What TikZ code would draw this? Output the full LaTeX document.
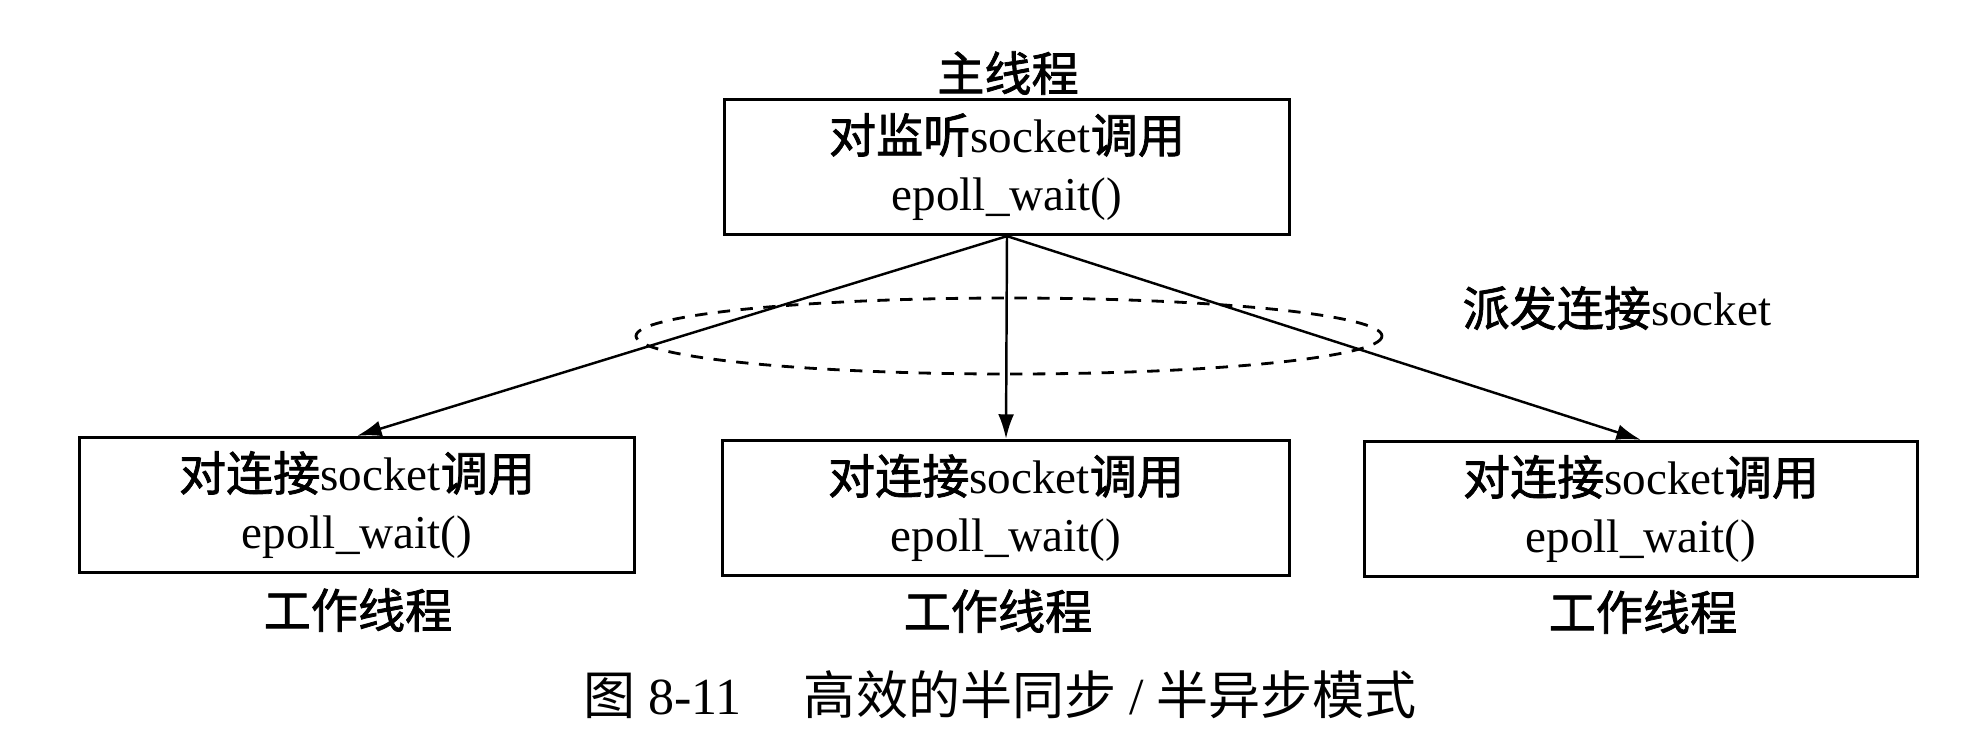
\documentclass[tikz,border=0pt]{standalone}
\usepackage{fontspec}
\setmainfont{Liberation Serif}
\newfontfamily\cjk[FakeBold=1.6]{Noto Sans CJK SC}
\newfontfamily\cjkcap{Noto Sans CJK SC}
\newcommand\zh[1]{{\cjk #1}}
\newcommand\zhcap[1]{{\cjkcap #1}}
\usetikzlibrary{arrows.meta}

\begin{document}
\begin{tikzpicture}[x=0.01cm,y=-0.01cm,
		thread/.style={draw,line width=0.9pt,minimum height=1.35cm,align=center,font=\fontsize{13.4}{16.5}\selectfont},
		tag/.style={font=\fontsize{13.4}{16}\selectfont},
		arr/.style={-{Latex[length=7pt,width=4.5pt]},line width=0.7pt}]
	\useasboundingbox (0,0) rectangle (1974,744);
	% main thread
	\node[tag] (mainlbl) at (1008,73) {\zh{主线程}};
	\node[thread,minimum width=5.64cm] (main) at (1007,167) {\zh{对监听}socket\zh{调用}\\epoll\_wait()};
	% worker threads
	\node[thread,minimum width=5.54cm] (w1) at (357,505) {\zh{对连接}socket\zh{调用}\\epoll\_wait()};
	\node[thread,minimum width=5.66cm] (w2) at (1006,508) {\zh{对连接}socket\zh{调用}\\epoll\_wait()};
	\node[thread,minimum width=5.53cm] (w3) at (1641,509) {\zh{对连接}socket\zh{调用}\\epoll\_wait()};
	\node[tag] (w1lbl) at (358,610) {\zh{工作线程}};
	\node[tag] (w2lbl) at (998,611) {\zh{工作线程}};
	\node[tag] (w3lbl) at (1643,612) {\zh{工作线程}};
	% dispatch
	\draw[arr] (main.south) -- (w1.north);
	\draw[arr] (main.south) -- (w2.north);
	\draw[arr] (main.south) -- (w3.north);
	\draw[dash pattern=on 3.5pt off 3pt,line width=0.8pt] (1009,336) ellipse (373 and 38);
	\node[tag] (send) at (1617,308) {\zh{派发连接}socket};
	% caption
	\node[font=\fontsize{14.8}{17}\selectfont] (fig) at (1000,695) {\zhcap{图} 8-11\hspace{1.2em}\zhcap{高效的半同步} / \zhcap{半异步模式}};
\end{tikzpicture}
\end{document}
